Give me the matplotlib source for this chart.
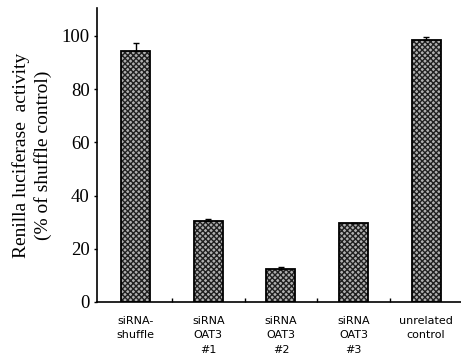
import matplotlib
matplotlib.use("Agg")
import matplotlib.pyplot as plt
import numpy as np

# Daten
categories = ["siRNA-\nshuffle", "siRNA\nOAT3\n#1", "siRNA\nOAT3\n#2", "siRNA\nOAT3\n#3", "unrelated\ncontrol"]
activity = [94.5, 30.5, 12.5, 29.5, 98.5]
err_upper = [3.0, 0.5, 0.6, 0.3, 1.0]
y_ticks = [0, 20, 40, 60, 80, 100]

fig = plt.figure(figsize=(4.61, 3.62), dpi=100)
ax = fig.add_axes([0.211, 0.166, 0.789, 0.812])

x = np.arange(len(categories))
yerr = [np.zeros(len(err_upper)), err_upper]

# textura pontilhada das barras
ax.bar(x, activity, width=0.4, color="#b0b0b0", edgecolor="#202020",
       hatch="xxxxxx", linewidth=0, zorder=2)
ax.bar(x, activity, width=0.4, fill=False, edgecolor="black",
       linewidth=1.3, zorder=3)
ax.errorbar(x, activity, yerr=yerr, fmt="none", ecolor="black",
            elinewidth=1, capsize=2.5, capthick=1, zorder=4)

ax.set_xlim(-0.53, 4.48)
ax.set_ylim(0, 110.5)
ax.spines["top"].set_visible(False)
ax.spines["right"].set_visible(False)
ax.spines["left"].set_linewidth(1.2)
ax.spines["bottom"].set_linewidth(1.2)

ax.set_yticks(y_ticks)
ax.set_yticklabels([str(t) for t in y_ticks], family="Liberation Serif", fontsize=13.5)
ax.tick_params(axis="y", direction="out", length=2.5, width=1, pad=3)

ax.set_xticks(x)
ax.set_xticklabels(categories, family="DejaVu Sans", fontsize=8, linespacing=1.55)
ax.tick_params(axis="x", length=0, pad=10)
ax.set_xticks(x[:-1] + 0.5, minor=True)
ax.tick_params(axis="x", which="minor", direction="in", length=3, width=1)

ax.set_ylabel("Renilla luciferase  activity\n(% of shuffle control)",
              family="Liberation Serif", fontsize=14, linespacing=1.25, labelpad=7)

plt.savefig("out.png", dpi=100, facecolor="white")
